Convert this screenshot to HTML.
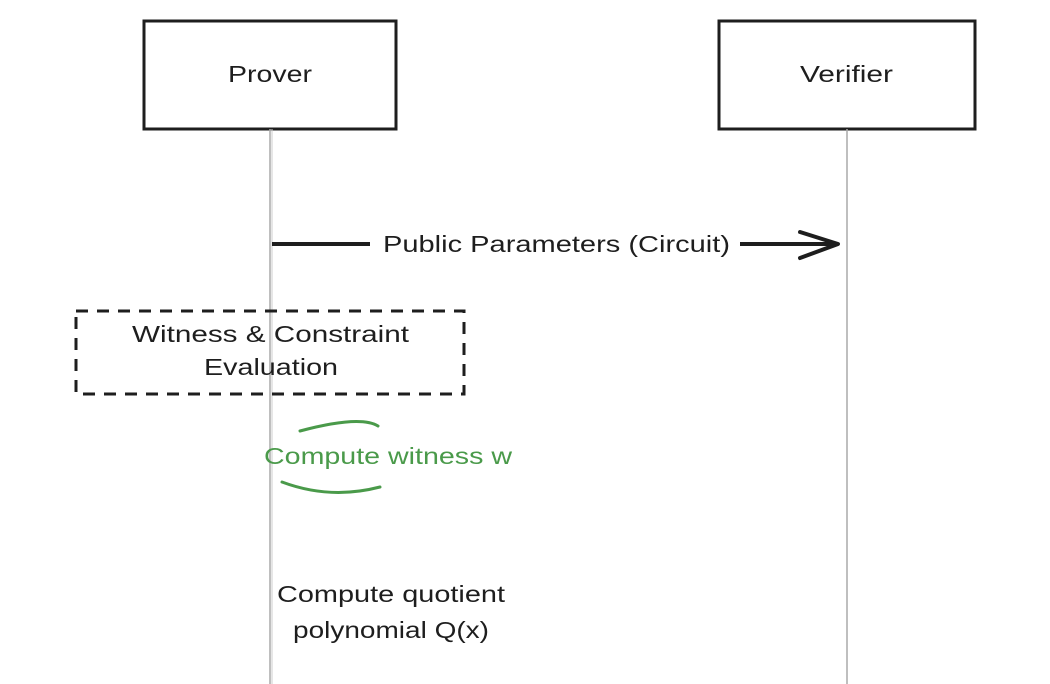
<!DOCTYPE html>
<html><head><style>
html,body{margin:0;padding:0;background:#fff;}
body{width:1050px;height:684px;overflow:hidden;position:relative;font-family:"Liberation Sans",sans-serif;}
</style></head><body>
<svg width="1050" height="684" xmlns="http://www.w3.org/2000/svg" style="position:absolute;left:0;top:0">
<rect x="144" y="21" width="252" height="108" fill="none" stroke="#1e1e1e" stroke-width="3"/>
<rect x="719" y="21" width="256" height="108" fill="none" stroke="#1e1e1e" stroke-width="3"/>
<line x1="270" y1="129" x2="270" y2="684" stroke="#aaa" stroke-width="1.5"/>
<line x1="272" y1="129" x2="272" y2="684" stroke="#ccc" stroke-width="1"/>
<line x1="847" y1="129" x2="847" y2="684" stroke="#aaa" stroke-width="1.5"/>
<line x1="272" y1="244" x2="370" y2="244" stroke="#1e1e1e" stroke-width="4"/>
<line x1="740" y1="244" x2="838" y2="244" stroke="#1e1e1e" stroke-width="4"/>
<path d="M800 232 L838 244 L800 258" fill="none" stroke="#1e1e1e" stroke-width="4" stroke-linecap="round" stroke-linejoin="round"/>
<rect x="76" y="311" width="388" height="83" fill="none" stroke="#1e1e1e" stroke-width="3" stroke-dasharray="12 9"/>
<path d="M300 431 Q360 415 378 426" fill="none" stroke="#4a9a4a" stroke-width="3" stroke-linecap="round"/>
<path d="M282 482 Q330 500 380 487" fill="none" stroke="#4a9a4a" stroke-width="3" stroke-linecap="round"/>
<g font-family="Liberation Sans, sans-serif" fill="#1e1e1e" font-size="23" lengthAdjust="spacingAndGlyphs">
<text x="228" y="82" textLength="84" lengthAdjust="spacingAndGlyphs">Prover</text>
<text x="800" y="82" textLength="93" lengthAdjust="spacingAndGlyphs">Verifier</text>
<text x="383" y="252" textLength="347" lengthAdjust="spacingAndGlyphs">Public Parameters (Circuit)</text>
<text x="132" y="342" textLength="277" lengthAdjust="spacingAndGlyphs">Witness &amp; Constraint</text>
<text x="204" y="375" textLength="134" lengthAdjust="spacingAndGlyphs">Evaluation</text>
<text x="264" y="464" fill="#4a9a4a" textLength="248" lengthAdjust="spacingAndGlyphs">Compute witness w</text>
<text x="277" y="602" textLength="228" lengthAdjust="spacingAndGlyphs">Compute quotient</text>
<text x="293" y="638" textLength="196" lengthAdjust="spacingAndGlyphs">polynomial Q(x)</text>
</g>
</svg>
</body></html>
